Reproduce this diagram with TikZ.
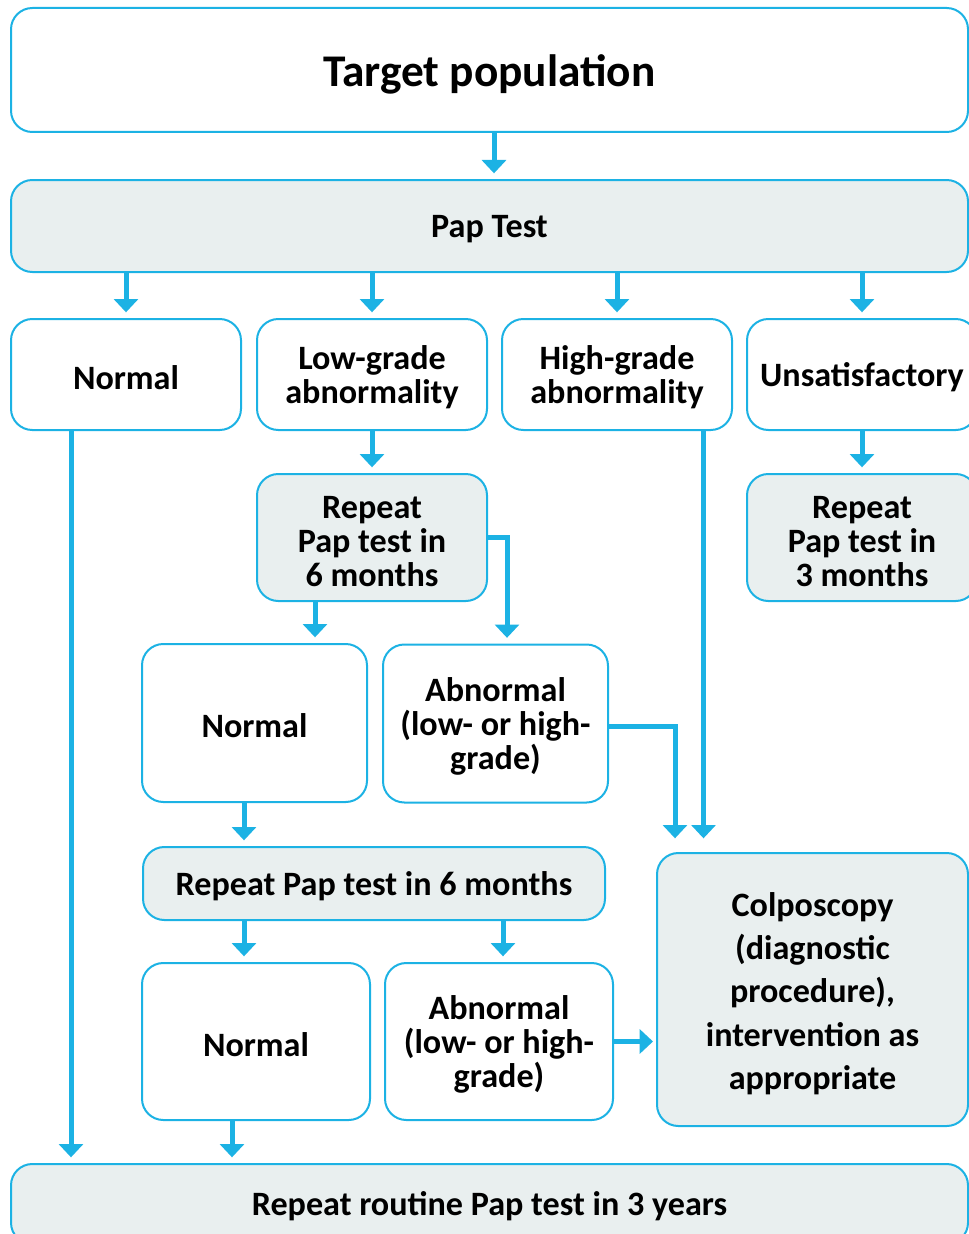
\documentclass[tikz,border=0pt]{standalone}
\usepackage{fontspec}
\setmainfont{Carlito}
\usetikzlibrary{arrows.meta, positioning, calc}
\definecolor{papblue}{RGB}{28,178,228}
\definecolor{papgray}{RGB}{233,239,239}
\newcommand{\lift}[1][22pt]{\rule{0pt}{#1}}

\begin{document}
\begin{tikzpicture}[
    x=0.75pt, y=-0.75pt,
    box/.style={rectangle, rounded corners=16pt, draw=papblue, line width=1.5pt, fill=white, inner sep=0pt, outer sep=0pt, align=center, font=\fontsize{25.6}{25.5}\selectfont\bfseries},
    result/.style={box, fill=papgray},
    arrow/.style={draw=papblue, line width=3.75pt, -{Triangle[width=18pt,length=10pt]}, shorten >=5pt},
]
    \useasboundingbox (0,0) rectangle (969,1234);

    % screening
    \node (target) [box, minimum width=717.75pt, minimum height=93pt, font=\fontsize{34}{36}\selectfont\bfseries] at (489.5,70) {\lift[30pt]Target population};
    \node (pap) [result, minimum width=717.75pt, minimum height=69pt] at (489.5,226) {\lift Pap Test};

    % first results
    \node (normal1) [box, minimum width=172.5pt, minimum height=83.25pt] at (126,374.5) {\lift Normal};
    \node (low) [box, minimum width=172.5pt, minimum height=83.25pt, right=12pt of normal1] {\lift Low-grade\\abnormality};
    \node (high) [box, minimum width=172.5pt, minimum height=83.25pt, right=11.25pt of low] {\lift High-grade\\abnormality};
    \node (unsat) [box, minimum width=172.5pt, minimum height=83.25pt, right=11.25pt of high] {\lift Unsatisfactory};

    \node (repeat6a) [result, minimum width=172.5pt, minimum height=95.25pt, below=33pt of low] {\lift Repeat\\Pap test in\\6 months};
    \node (repeat3) [result, minimum width=172.5pt, minimum height=95.25pt, below=33pt of unsat] {\lift Repeat\\Pap test in\\3 months};

    % follow-up
    \node (normal2) [box, minimum width=168.75pt, minimum height=118.5pt] at (254.5,723) {\lift Normal};
    \node (abn1) [box, minimum width=168.75pt, minimum height=118.5pt] at (495.5,723.5) {\lift Abnormal\\(low- or high-\\grade)};
    \node (repeat6b) [result, minimum width=346.5pt, minimum height=54.75pt] at (374,883.5) {\lift Repeat Pap test in 6 months};
    \node (normal3) [box, minimum width=171pt, minimum height=117.75pt] at (256,1041.5) {\lift Normal};
    \node (abn2) [box, minimum width=171pt, minimum height=117.75pt] at (499,1041.5) {\lift Abnormal\\(low- or high-\\grade)};
    \node (colpo) [result, minimum width=233.25pt, minimum height=204.75pt, font=\fontsize{25.6}{32.5}\selectfont\bfseries] at (812.5,989.5) {\lift[24pt]Colposcopy\\(diagnostic\\procedure),\\intervention as\\appropriate};

    \node (routine) [result, minimum width=717.75pt, minimum height=60pt] at (489.5,1204) {\lift Repeat routine Pap test in 3 years};

    % arrows
    \draw [arrow] ($(target.south)+(4.5,0)$) coordinate (t1) -- (t1 |- pap.north);
    \draw [arrow] (pap.south -| normal1) -- (normal1);
    \draw [arrow] (pap.south -| low) -- (low);
    \draw [arrow] (pap.south -| high) -- (high);
    \draw [arrow] (pap.south -| unsat) -- (unsat);
    \draw [arrow] (low) -- (repeat6a);
    \draw [arrow] (unsat) -- (repeat3);
    \draw [arrow] ($(normal1.south west)+(60,0)$) coordinate (n1) -- (n1 |- routine.north);
    \draw [arrow] ($(repeat6a.south)+(-57,0)$) coordinate (r6) -- (r6 |- normal2.north);
    \draw [arrow] (repeat6a.east) -| ($(abn1.north)+(11.5,0)$);
    \draw [arrow, shorten >=11pt] ($(abn1.east)+(0,2.5)$) -| ($(colpo.north)+(-137.5,0)$);
    \draw [arrow, shorten >=11pt] ($(high.south)+(86.5,0)$) coordinate (h1) -- (h1 |- colpo.north);
    \draw [arrow] ($(normal2.south)+(-10.5,0)$) coordinate (n2) -- (n2 |- repeat6b.north);
    \draw [arrow] ($(repeat6b.south -| normal3)+(-12,0)$) coordinate (r6n) -- (r6n |- normal3.north);
    \draw [arrow] ($(repeat6b.south -| abn2)+(4,0)$) coordinate (r6b) -- (r6b |- abn2.north);
    \draw [arrow, shorten >=3pt] (abn2.east) -- (abn2.east -| colpo.west);
    \draw [arrow] ($(normal3.south)+(-24,0)$) coordinate (n3) -- (n3 |- routine.north);

\end{tikzpicture}
\end{document}
